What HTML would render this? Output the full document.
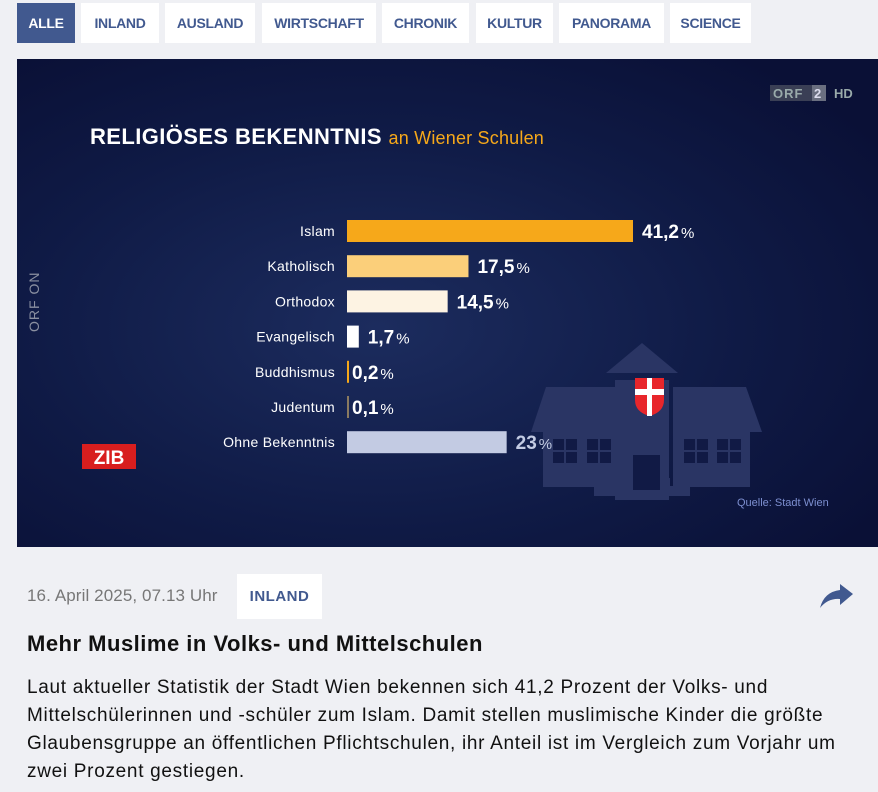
<!DOCTYPE html>
<html><head><meta charset="utf-8">
<style>
body{margin:0;width:878px;height:792px;background:#eff0f4;font-family:"Liberation Sans",sans-serif;overflow:hidden;position:relative}
.nav{position:absolute;top:3px;height:40px;background:#fff;color:#41598f;font-weight:bold;font-size:14px;display:flex;align-items:center;justify-content:center;letter-spacing:-0.3px}
.nav.on{background:#41598f;color:#fff}
#panel{position:absolute;left:17px;top:59px}
.date{position:absolute;left:27px;top:586px;font-size:17px;color:#777;letter-spacing:0.1px}
.tag{position:absolute;left:237px;top:574px;width:85px;height:45px;background:#fff;color:#41598f;font-weight:bold;font-size:15px;display:flex;align-items:center;justify-content:center;letter-spacing:0.5px}
h1{position:absolute;left:27px;top:631px;margin:0;font-size:22px;letter-spacing:0.5px;color:#111}
p{position:absolute;left:27px;top:674px;margin:0;font-size:19px;line-height:28px;letter-spacing:0.7px;color:#111;width:851px;white-space:nowrap}
</style></head><body>
<div class="nav on" style="left:17px;width:58px">ALLE</div>
<div class="nav" style="left:81px;width:78px">INLAND</div>
<div class="nav" style="left:165px;width:90px">AUSLAND</div>
<div class="nav" style="left:262px;width:114px">WIRTSCHAFT</div>
<div class="nav" style="left:382px;width:87px">CHRONIK</div>
<div class="nav" style="left:476px;width:77px">KULTUR</div>
<div class="nav" style="left:559px;width:105px">PANORAMA</div>
<div class="nav" style="left:670px;width:81px">SCIENCE</div>

<svg id="panel" width="861" height="488" viewBox="17 59 861 488" xmlns="http://www.w3.org/2000/svg">
<defs>
<radialGradient id="bg" cx="0.42" cy="0.55" r="0.7">
<stop offset="0" stop-color="#1c2c5e"/><stop offset="0.6" stop-color="#0f1a45"/><stop offset="1" stop-color="#0a1036"/>
</radialGradient>
</defs>
<rect x="17" y="59" width="861" height="488" fill="url(#bg)"/>
<g>
<rect x="770" y="85" width="42" height="16" fill="#3a3f55"/><text x="773" y="98" font-size="13" font-weight="bold" fill="#9aa" letter-spacing="1">ORF</text>
<rect x="812" y="85" width="14" height="16" fill="#6a6f80"/><text x="814" y="98" font-size="13" font-weight="bold" fill="#dde">2</text>
<text x="834" y="98" font-size="13" font-weight="bold" fill="#9aa">HD</text>
</g>
<text x="90" y="144" font-size="22" font-weight="bold" fill="#fff" letter-spacing="0.4">RELIGIÖSES BEKENNTNIS <tspan font-size="18" font-weight="normal" fill="#f6a81a" letter-spacing="0.2">an Wiener Schulen</tspan></text>
<text transform="translate(39,332) rotate(-90)" font-size="14" fill="#8a8fa0" letter-spacing="1">ORF ON</text>
<g><rect x="82" y="444" width="54" height="25" fill="#d81e1e"/><text x="109" y="464" font-size="19" font-weight="bold" fill="#fff" text-anchor="middle">ZIB</text></g>
<g fill="#2a3564">
<rect x="615" y="380" width="54" height="120"/><polygon points="642,343 678,373 606,373"/>
<polygon points="546,387 621,387 621,432 531,432"/><rect x="543" y="432" width="78" height="55"/>
<polygon points="673,387 746,387 762,432 673,432"/><rect x="673" y="432" width="77" height="55"/>
<rect x="594" y="486" width="96" height="10"/><rect x="614" y="478" width="56" height="10"/>
<g fill="#111a45"><rect x="553" y="439" width="24" height="24"/><rect x="587" y="439" width="24" height="24"/><rect x="684" y="439" width="24" height="24"/><rect x="717" y="439" width="24" height="24"/><rect x="633" y="455" width="27" height="35"/></g>
<g stroke="#2a3564" stroke-width="2"><line x1="565" y1="439" x2="565" y2="463"/><line x1="553" y1="451" x2="577" y2="451"/><line x1="599" y1="439" x2="599" y2="463"/><line x1="587" y1="451" x2="611" y2="451"/><line x1="696" y1="439" x2="696" y2="463"/><line x1="684" y1="451" x2="708" y2="451"/><line x1="729" y1="439" x2="729" y2="463"/><line x1="717" y1="451" x2="741" y2="451"/></g>
<path d="M635,378 H664 V400 Q664,412 649.5,416 Q635,412 635,400Z" fill="#e8262b"/>
<rect x="647" y="378" width="5" height="38" fill="#fff"/><rect x="635" y="389" width="29" height="6" fill="#fff"/>
</g>
<text x="737" y="506" font-size="11" fill="#7d8fd0">Quelle: Stadt Wien</text>
<g id="bars"></g>
</svg>

<div class="date">16. April 2025, 07.13 Uhr</div>
<div class="tag">INLAND</div>
<svg style="position:absolute;left:818px;top:580px" width="38" height="30"><path d="M2,28 Q6,12 22,10 V4 L35,14 L22,25 V19 Q10,18 2,28Z" fill="#41598f"/></svg>
<h1>Mehr Muslime in Volks- und Mittelschulen</h1>
<p>Laut aktueller Statistik der Stadt Wien bekennen sich 41,2 Prozent der Volks- und<br>Mittelschülerinnen und -schüler zum Islam. Damit stellen muslimische Kinder die größte<br>Glaubensgruppe an öffentlichen Pflichtschulen, ihr Anteil ist im Vergleich zum Vorjahr um<br>zwei Prozent gestiegen.</p>

<script>
const categories = ["Islam","Katholisch","Orthodox","Evangelisch","Buddhismus","Judentum","Ohne Bekenntnis"];
const values = [41.2,17.5,14.5,1.7,0.2,0.1,23];
const valueLabels = ["41,2","17,5","14,5","1,7","0,2","0,1","23"];
const colors = ["#f6a81a","#fbcf7a","#fdf3e3","#ffffff","#f6a81a","#8a7a60","#c3cbe3"];
const NS="http://www.w3.org/2000/svg";
const x0=347, pxPerUnit=286/41.2;
function xScale(v){return x0+v*pxPerUnit;}
function yScale(i){return 231+i*35.2;}
const g=document.getElementById('bars');
function mk(tag,attrs){const e=document.createElementNS(NS,tag);for(const k in attrs)e.setAttribute(k,attrs[k]);return e;}
categories.forEach((c,i)=>{
  const y=yScale(i), w=Math.max(xScale(values[i])-x0,2);
  const lab=mk('text',{x:335,y:y+5,'font-size':14,fill:'#fff','text-anchor':'end','letter-spacing':0.3});
  lab.textContent=c;
  
  
  g.appendChild(lab);
  const r=mk('rect',{x:x0,y:y-11,width:w,height:22,fill:colors[i]});
  
  
  g.appendChild(r);
  const t=mk('text',{x:x0+w+(w<4?3:9),y:y+7,'font-size':19,'font-weight':'bold',fill:i==6?'#c3cbe3':'#fff'});
  t.textContent=valueLabels[i];
  const ts=mk('tspan',{'font-size':15,'font-weight':'normal',dx:2});ts.textContent='%';t.appendChild(ts);
  
  
  g.appendChild(t);
});
</script>
</body></html>
